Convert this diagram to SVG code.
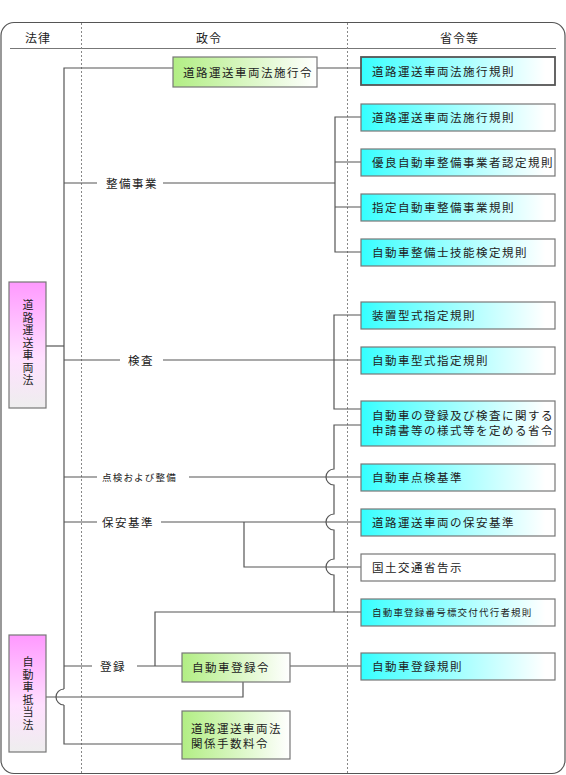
<svg xmlns="http://www.w3.org/2000/svg" width="566" height="775" viewBox="0 0 566 775">
<defs>
<linearGradient id="gGreen" x1="0" y1="0" x2="1" y2="0">
<stop offset="0" stop-color="#b2ee84"/>
<stop offset="1" stop-color="#ffffff"/>
</linearGradient>
<linearGradient id="gCyan" x1="0" y1="0" x2="1" y2="0">
<stop offset="0" stop-color="#33ffff"/>
<stop offset="0.12" stop-color="#55ffff"/>
<stop offset="0.95" stop-color="#ffffff"/>
</linearGradient>
<linearGradient id="gPink" x1="0" y1="0" x2="0" y2="1">
<stop offset="0" stop-color="#ff99ff"/>
<stop offset="0.6" stop-color="#ffe0ff"/>
<stop offset="1" stop-color="#eeeeee"/>
</linearGradient>
</defs>
<style>
text{font-family:"Noto Sans CJK JP","Noto Sans CJK SC",sans-serif;fill:#222;font-size:11.5px;letter-spacing:1.5px}
.sm{font-size:9.5px;letter-spacing:1.2px}
.hd{font-size:12px;letter-spacing:1px}
.vt{writing-mode:vertical-rl;font-size:11px}
.box{stroke:#777;stroke-width:1.2}
.cy{fill:url(#gCyan)}
.gr{fill:url(#gGreen)}
.pk{fill:url(#gPink)}
.wh{fill:#fff}
.ln{fill:none;stroke:#555;stroke-width:1.2}
.dash{stroke:#888;stroke-width:1;stroke-dasharray:2 2}
</style>
<g id="frame">
<rect x="1" y="22.5" width="564" height="751" rx="13" fill="#fff" stroke="#555" stroke-width="1.2"/>
<line x1="10" y1="48.5" x2="556" y2="48.5" stroke="#777" stroke-width="1.2"/>
<line class="dash" x1="81.5" y1="23" x2="81.5" y2="774"/>
<line class="dash" x1="347.5" y1="23" x2="347.5" y2="774"/>
<text class="hd" x="25" y="42.5">法律</text>
<text class="hd" x="196" y="42.5">政令</text>
<text class="hd" x="440" y="42.5">省令等</text>
</g>
<g id="connectors">
<path class="ln" d="M64 689 L64 68 L173 68"/>
<path class="ln" d="M64 705 L64 744 L182 744"/>
<path class="ln" d="M64 689 A8 8 0 0 0 64 705"/>
<path class="ln" d="M317 68 L361 68"/>
<path class="ln" d="M64 183 L97 183 M163 183 L335 183"/>
<path class="ln" d="M361 117 L335 117 L335 252 L361 252 M335 162 L361 162 M335 207 L361 207"/>
<path class="ln" d="M46 346 L64 346"/>
<path class="ln" d="M64 360 L120 360 M163 360 L361 360"/>
<path class="ln" d="M361 315 L334 315 L334 409 L361 409"/>
<path class="ln" d="M361 425 L334 425 L334 469 A8 8 0 0 0 334 485 L334 514 A8 8 0 0 0 334 530 L334 559 A8 8 0 0 0 334 575 L334 612"/>
<path class="ln" d="M64 477 L97 477 M189 477 L361 477"/>
<path class="ln" d="M64 522 L97 522 M161 522 L361 522"/>
<path class="ln" d="M244 522 L244 567 L361 567"/>
<path class="ln" d="M155 666 L155 612 L361 612"/>
<path class="ln" d="M64 666 L92 666 M137 666 L182 666"/>
<path class="ln" d="M290 666 L361 666"/>
<path class="ln" d="M243 682 L243 697 L46 697"/>
</g>
<g id="law1">
<rect class="box pk" x="9" y="282" width="37" height="126"/>
<text class="vt" x="28" y="299.5" letter-spacing="2.3">道路運送車両法</text>
</g>
<g id="law2">
<rect class="box pk" x="9" y="635" width="37" height="117"/>
<text class="vt" x="28" y="656.5" letter-spacing="2">自動車抵当法</text>
</g>
<g id="seirei1">
<rect class="box gr" x="173" y="57" width="144" height="30"/>
<text x="183" y="77">道路運送車両法施行令</text>
</g>
<g id="seirei2">
<rect class="box gr" x="182" y="653" width="108" height="29"/>
<text x="192" y="672">自動車登録令</text>
</g>
<g id="seirei3">
<rect class="box gr" x="182" y="711" width="108" height="48"/>
<text x="191" y="732.5">道路運送車両法</text>
<text x="191" y="747.5">関係手数料令</text>
</g>
<g id="label-seibi"><text x="106" y="187.5">整備事業</text></g>
<g id="label-kensa"><text x="128" y="364.5">検査</text></g>
<g id="label-tenken"><text class="sm" x="102" y="480.5">点検および整備</text></g>
<g id="label-hoan"><text x="102" y="526.5">保安基準</text></g>
<g id="label-toroku"><text x="100" y="670.5">登録</text></g>
<g id="rule1">
<rect class="cy" x="361" y="57" width="194" height="28" stroke="#555" stroke-width="1.8"/>
<text x="372" y="75.5">道路運送車両法施行規則</text>
</g>
<g id="rule2">
<rect class="box cy" x="361" y="104" width="194" height="27"/>
<text x="372" y="122">道路運送車両法施行規則</text>
</g>
<g id="rule3">
<rect class="box cy" x="361" y="149" width="194" height="27"/>
<text x="372" y="167">優良自動車整備事業者認定規則</text>
</g>
<g id="rule4">
<rect class="box cy" x="361" y="194" width="194" height="27"/>
<text x="372" y="212">指定自動車整備事業規則</text>
</g>
<g id="rule5">
<rect class="box cy" x="361" y="239" width="194" height="27"/>
<text x="372" y="257">自動車整備士技能検定規則</text>
</g>
<g id="rule6">
<rect class="box cy" x="361" y="302" width="194" height="27"/>
<text x="372" y="320">装置型式指定規則</text>
</g>
<g id="rule7">
<rect class="box cy" x="361" y="347" width="194" height="27"/>
<text x="372" y="365">自動車型式指定規則</text>
</g>
<g id="rule8">
<rect class="box cy" x="361" y="401" width="194" height="45"/>
<text x="372" y="419.5">自動車の登録及び検査に関する</text>
<text x="372" y="434.5">申請書等の様式等を定める省令</text>
</g>
<g id="rule9">
<rect class="box cy" x="361" y="464" width="194" height="27"/>
<text x="372" y="482">自動車点検基準</text>
</g>
<g id="rule10">
<rect class="box cy" x="361" y="509" width="194" height="27"/>
<text x="372" y="527">道路運送車両の保安基準</text>
</g>
<g id="rule11">
<rect class="box wh" x="361" y="554" width="194" height="27"/>
<text x="372" y="572">国土交通省告示</text>
</g>
<g id="rule12">
<rect class="box cy" x="361" y="599" width="194" height="27"/>
<text class="sm" x="372" y="616">自動車登録番号標交付代行者規則</text>
</g>
<g id="rule13">
<rect class="box cy" x="361" y="653" width="194" height="27"/>
<text x="372" y="671">自動車登録規則</text>
</g>
</svg>
